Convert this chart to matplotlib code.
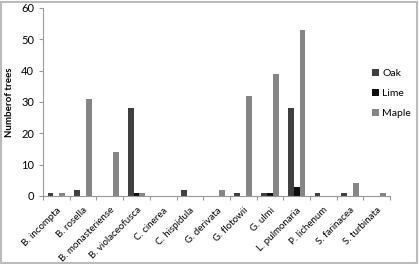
import numpy as np
import matplotlib.pyplot as plt
from matplotlib.patches import Rectangle

species = ["B. incompta", "B. rosella", "B. monasteriense", "B. violaceofusca",
           "C. cinerea", "C. hispidula", "G. derivata", "G. flotowii", "G. ulmi",
           "L. pulmonaria", "P. lichenum", "S. farinacea", "S. turbinata"]
oak = [1, 2, 0, 28, 0, 2, 0, 1, 1, 28, 1, 1, 0]
lime = [0, 0, 0, 1, 0, 0, 0, 0, 1, 3, 0, 0, 0]
maple = [1, 31, 14, 1, 0, 0, 2, 32, 39, 53, 0, 4, 1]

plt.rcParams['font.family'] = ['Lato', 'DejaVu Sans']

fig = plt.figure(figsize=(4.19, 2.64), dpi=100)
ax = fig.add_axes([0.1026, 0.2576, 0.8285, 0.7121])

x = np.arange(len(species))
w = 0.22
ax.bar(x - w, oak, w, color='#404040', label='Oak')
ax.bar(x, lime, w, color='#0d0d0d', label='Lime')
ax.bar(x + w, maple, w, color='#858585', label='Maple')

ax.set_xlim(-0.5, len(species) - 0.5)
ax.set_ylim(0, 60)
ax.set_yticks(range(0, 61, 10))
ax.set_xticks(x)
ax.set_xticklabels(species, rotation=45, ha='right', rotation_mode='anchor', fontsize=7)
ax.set_xticks(np.arange(-0.5, len(species), 1), minor=True)
ax.tick_params(axis='x', which='major', length=0, pad=7)
ax.tick_params(axis='x', which='minor', length=3, color='#999999', width=0.8)
ax.tick_params(axis='y', length=3, color='#999999', width=0.8, labelsize=8)
ax.set_ylabel("Numberof trees", fontsize=7, fontweight='bold', labelpad=5)

for s in ['top', 'right']:
    ax.spines[s].set_visible(False)
for s in ['left', 'bottom']:
    ax.spines[s].set_color('#999999')
    ax.spines[s].set_linewidth(0.8)

ax.legend(loc='center left', bbox_to_anchor=(0.948, 0.545), frameon=False,
          borderaxespad=0, borderpad=0, fontsize=7.5, handlelength=0.7,
          handleheight=0.7, handletextpad=0.3, labelspacing=1.05)

fig.patches.append(Rectangle((0.003, 0.004), 0.992, 0.99, transform=fig.transFigure,
                             fill=False, edgecolor='#bbbbbb', linewidth=1.5))

fig.savefig('out.png', dpi=100)
